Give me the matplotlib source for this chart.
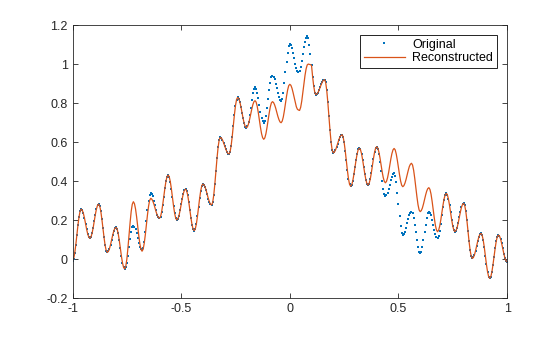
import numpy as np
import matplotlib
matplotlib.use('Agg')
import matplotlib.pyplot as plt

# Original samples (x from -1 to 1, step 0.005)
original_y = [
    -0.010,
    0.000, 0.029, 0.072, 0.123, 0.174, 0.217, 0.246, 0.256,
    0.250, 0.234, 0.210, 0.181, 0.152, 0.128, 0.112, 0.106,
    0.113, 0.132, 0.160, 0.194, 0.228, 0.256, 0.275, 0.282,
    0.273, 0.246, 0.205, 0.158, 0.111, 0.070, 0.043, 0.034,
    0.039, 0.053, 0.074, 0.099, 0.123, 0.144, 0.158, 0.163,
    0.155, 0.132, 0.097, 0.056, 0.015, -0.020, -0.043, -0.051,
    -0.043, -0.019, 0.017, 0.060, 0.102, 0.138, 0.162, 0.170,
    0.165, 0.152, 0.132, 0.108, 0.084, 0.064, 0.051, 0.046,
    0.057, 0.089, 0.137, 0.193, 0.249, 0.297, 0.329, 0.340,
    0.335, 0.321, 0.300, 0.275, 0.250, 0.228, 0.214, 0.209,
    0.217, 0.241, 0.278, 0.320, 0.362, 0.399, 0.423, 0.431,
    0.422, 0.397, 0.360, 0.316, 0.271, 0.234, 0.209, 0.200,
    0.206, 0.223, 0.249, 0.280, 0.310, 0.336, 0.353, 0.359,
    0.351, 0.328, 0.293, 0.252, 0.211, 0.176, 0.153, 0.145,
    0.154, 0.180, 0.219, 0.265, 0.311, 0.350, 0.376, 0.385,
    0.381, 0.369, 0.352, 0.331, 0.310, 0.293, 0.281, 0.277,
    0.290, 0.328, 0.384, 0.451, 0.517, 0.573, 0.611, 0.624,
    0.621, 0.611, 0.597, 0.581, 0.565, 0.551, 0.541, 0.538,
    0.549, 0.581, 0.628, 0.684, 0.739, 0.787, 0.818, 0.829,
    0.823, 0.806, 0.781, 0.751, 0.721, 0.696, 0.679, 0.673,
    0.681, 0.703, 0.737, 0.777, 0.816, 0.850, 0.872, 0.880,
    0.873, 0.854, 0.824, 0.790, 0.755, 0.725, 0.706, 0.699,
    0.708, 0.734, 0.774, 0.820, 0.866, 0.905, 0.931, 0.940,
    0.935, 0.921, 0.900, 0.876, 0.852, 0.831, 0.817, 0.812,
    0.823, 0.854, 0.901, 0.957, 1.012, 1.059, 1.090, 1.101,
    1.096, 1.080, 1.057, 1.029, 1.002, 0.978, 0.963, 0.957,
    0.964, 0.984, 1.014, 1.050, 1.085, 1.115, 1.135, 1.142,
    1.131, 1.098, 1.050, 0.993, 0.935, 0.887, 0.854, 0.843,
    0.846, 0.854, 0.867, 0.882, 0.896, 0.909, 0.917, 0.920,
    0.906, 0.865, 0.804, 0.732, 0.660, 0.599, 0.558, 0.544,
    0.548, 0.558, 0.573, 0.591, 0.609, 0.624, 0.634, 0.638,
    0.628, 0.599, 0.556, 0.506, 0.455, 0.412, 0.383, 0.373,
    0.380, 0.402, 0.434, 0.471, 0.508, 0.540, 0.562, 0.569,
    0.562, 0.541, 0.510, 0.474, 0.438, 0.407, 0.386, 0.379,
    0.387, 0.408, 0.440, 0.478, 0.515, 0.547, 0.569, 0.576,
    0.566, 0.539, 0.498, 0.450, 0.401, 0.360, 0.333, 0.323,
    0.327, 0.340, 0.359, 0.381, 0.403, 0.422, 0.435, 0.439,
    0.427, 0.393, 0.341, 0.281, 0.221, 0.169, 0.135, 0.123,
    0.128, 0.141, 0.160, 0.183, 0.206, 0.226, 0.238, 0.243,
    0.235, 0.212, 0.177, 0.136, 0.095, 0.060, 0.037, 0.029,
    0.037, 0.060, 0.095, 0.136, 0.177, 0.212, 0.235, 0.243,
    0.238, 0.224, 0.202, 0.177, 0.151, 0.129, 0.115, 0.110,
    0.119, 0.143, 0.180, 0.224, 0.267, 0.304, 0.328, 0.337,
    0.330, 0.308, 0.276, 0.239, 0.201, 0.169, 0.148, 0.140,
    0.146, 0.161, 0.185, 0.213, 0.241, 0.265, 0.280, 0.286,
    0.275, 0.245, 0.199, 0.145, 0.090, 0.044, 0.014, 0.003,
    0.008, 0.022, 0.043, 0.068, 0.092, 0.113, 0.127, 0.132,
    0.123, 0.098, 0.061, 0.017, -0.028, -0.065, -0.090, -0.099,
    -0.091, -0.067, -0.030, 0.012, 0.054, 0.091, 0.115, 0.123,
    0.118, 0.103, 0.080, 0.054, 0.028, 0.005, -0.010, -0.015,
]

# Reconstructed curve: equal to the original except in these stretches
recon_seg_a_start = -0.76
recon_seg_a = [
    -0.051,
    -0.038, -0.001, 0.056, 0.122, 0.187, 0.244, 0.281, 0.294,
    0.284, 0.257, 0.216, 0.167, 0.119, 0.077, 0.050, 0.040,
    0.050, 0.080, 0.124, 0.176, 0.227, 0.271, 0.301, 0.311,
    0.307, 0.296, 0.280, 0.260, 0.241, 0.224, 0.213, 0.209,
]
recon_seg_b_start = -0.20
recon_seg_b = [
    0.673,
    0.678, 0.693, 0.716, 0.743, 0.769, 0.792, 0.807, 0.812,
    0.805, 0.783, 0.751, 0.713, 0.675, 0.643, 0.622, 0.614,
    0.621, 0.642, 0.674, 0.711, 0.747, 0.779, 0.800, 0.807,
    0.803, 0.791, 0.774, 0.753, 0.732, 0.715, 0.703, 0.699,
    0.707, 0.728, 0.760, 0.798, 0.835, 0.867, 0.889, 0.896,
    0.891, 0.876, 0.854, 0.829, 0.803, 0.781, 0.768, 0.764,
    0.762, 0.778, 0.810, 0.852, 0.898, 0.942, 0.975, 0.995,
    1.000, 0.998, 0.997, 0.993, 0.935, 0.887, 0.854, 0.843,
]
recon_seg_c_start = 0.40
recon_seg_c = [
    0.576,
    0.569, 0.549, 0.519, 0.484, 0.448, 0.418, 0.398, 0.391,
    0.398, 0.417, 0.445, 0.479, 0.513, 0.541, 0.560, 0.567,
    0.560, 0.538, 0.506, 0.469, 0.432, 0.400, 0.378, 0.371,
    0.376, 0.389, 0.408, 0.431, 0.454, 0.474, 0.486, 0.491,
    0.482, 0.455, 0.414, 0.367, 0.320, 0.279, 0.252, 0.243,
    0.248, 0.261, 0.281, 0.305, 0.328, 0.348, 0.361, 0.366,
    0.357, 0.333, 0.296, 0.253, 0.210, 0.173, 0.149, 0.140,
    0.148, 0.169, 0.201, 0.239, 0.276, 0.308, 0.329, 0.337,
]

x_ticks = [-1, -0.5, 0, 0.5, 1]
x_tick_labels = ['-1', '-0.5', '0', '0.5', '1']
y_ticks = [-0.2, 0, 0.2, 0.4, 0.6, 0.8, 1.0, 1.2]
y_tick_labels = ['-0.2', '0', '0.2', '0.4', '0.6', '0.8', '1', '1.2']

plt.rcParams['font.family'] = ['Liberation Sans', 'DejaVu Sans']
plt.rcParams['axes.unicode_minus'] = False

x = np.linspace(-1, 1, len(original_y))
recon = np.array(original_y, dtype=float)
for x0, seg in [(recon_seg_a_start, recon_seg_a),
                (recon_seg_b_start, recon_seg_b),
                (recon_seg_c_start, recon_seg_c)]:
    i0 = int(np.argmin(np.abs(x - x0)))
    recon[i0:i0 + len(seg)] = seg

fig = plt.figure(figsize=(5.6, 3.37), dpi=100)
ax = fig.add_axes([0.1295, 0.1157, 0.776, 0.810])

ax.plot(x, original_y, linestyle='none', marker='s', markersize=2.0,
        markeredgewidth=0, color='#0072BD', label='Original')
ax.plot(x, recon, color='#D95319', linewidth=0.9, label='Reconstructed')

ax.set_xlim(-1, 1)
ax.set_ylim(-0.2, 1.2)
ax.set_xticks(x_ticks)
ax.set_xticklabels(x_tick_labels)
ax.set_yticks(y_ticks)
ax.set_yticklabels(y_tick_labels)
ax.tick_params(direction='in', top=True, right=True, length=3.5, width=0.6,
               color='#262626', labelcolor='#262626', labelsize=9)
for s in ax.spines.values():
    s.set_color('#262626')
    s.set_linewidth(0.6)

leg = ax.legend(loc='upper right', fancybox=False, edgecolor='black',
                framealpha=1, fontsize=9, numpoints=1, handlelength=3.3,
                borderaxespad=0.8, borderpad=0.3, labelspacing=0.1,
                handletextpad=0.6)
leg.get_frame().set_linewidth(0.6)

fig.savefig('out.png', dpi=100)
